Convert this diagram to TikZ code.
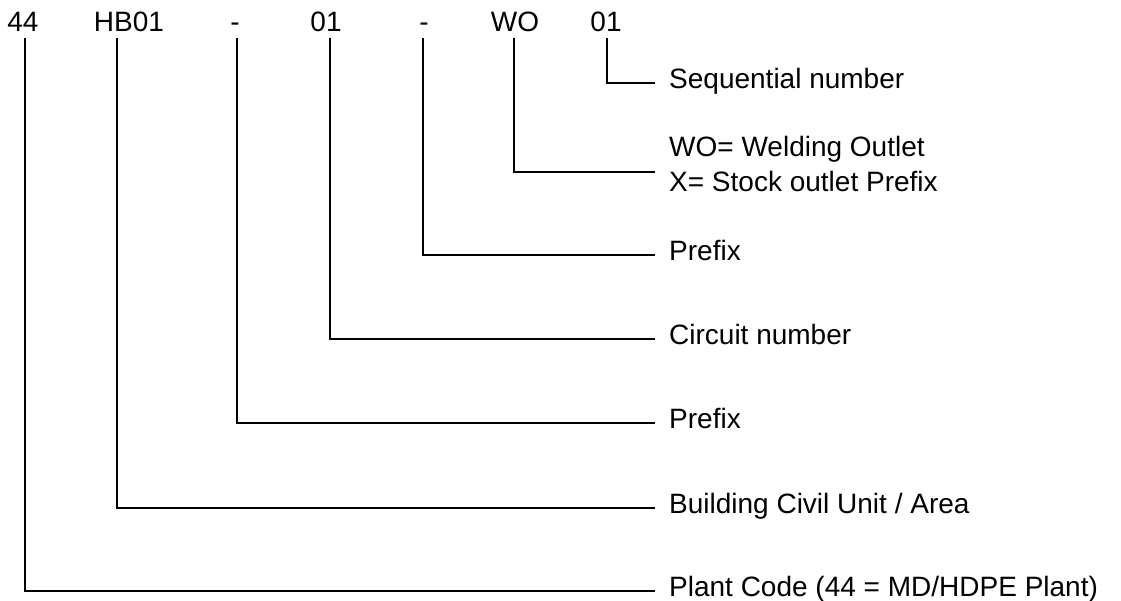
\documentclass[tikz,border=0pt]{standalone}
\usepackage{fontspec}
\setmainfont{Liberation Sans}
\begin{document}
\begin{tikzpicture}[x=1pt,y=-1pt,
  code/.style={font=\fontsize{28}{34}\selectfont, inner sep=0pt, anchor=base},
  desc/.style={font=\fontsize{28}{34}\selectfont, inner xsep=14pt, inner ysep=0pt, anchor=base west},
  conn/.style={draw=black, line width=2.7pt}]
\useasboundingbox (0,0) rectangle (1121,600);
% code parts
\node[code] (t1) at (23,31) {44};
\node[code] (t2) at (129,31) {HB01};
\node[code] (t3) at (235,31) {-};
\node[code] (t4) at (326,31) {01};
\node[code] (t5) at (424,31) {-};
\node[code] (t6) at (515,31) {WO};
\node[code] (t7) at (606,31) {01};
% tops of connector lines
\coordinate (v1) at (25,38);
\coordinate (v2) at (117,38);
\coordinate (v3) at (237,38);
\coordinate (v4) at (330,38);
\coordinate (v5) at (423,38);
\coordinate (v6) at (514,38);
\coordinate (v7) at (607,38);
% descriptions
\node[desc] (d7) at (655,88) {Sequential number};
\node[desc] (d6a) at (655,156) {WO= Welding Outlet};
\node[desc] (d6b) at (655,191) {X= Stock outlet Prefix};
\node[desc] (d5) at (655,260) {Prefix};
\node[desc] (d4) at (655,344) {Circuit number};
\node[desc] (d3) at (655,428) {Prefix};
\node[desc] (d2) at (655,513) {Building Civil Unit / Area};
\node[desc] (d1) at (655,596) {Plant Code (44 = MD/HDPE Plant)};
% connectors
\draw[conn] (v7) |- ([yshift=5pt]d7.base west);
\draw[conn] (v6) |- ([yshift=19pt]d6b.base west);
\draw[conn] (v5) |- ([yshift=5pt]d5.base west);
\draw[conn] (v4) |- ([yshift=5pt]d4.base west);
\draw[conn] (v3) |- ([yshift=5pt]d3.base west);
\draw[conn] (v2) |- ([yshift=5pt]d2.base west);
\draw[conn] (v1) |- ([yshift=5pt]d1.base west);
\end{tikzpicture}
\end{document}
